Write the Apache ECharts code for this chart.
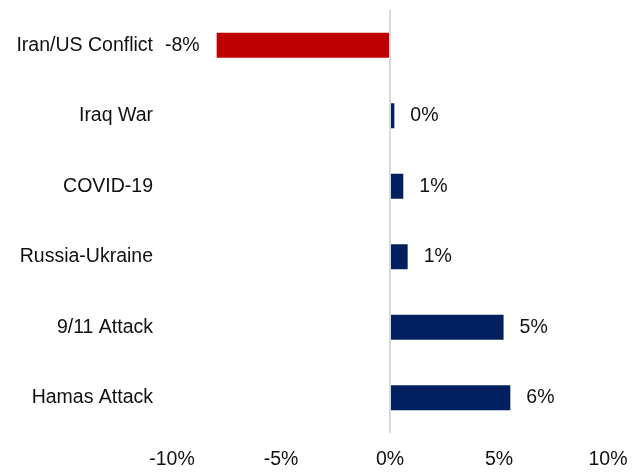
<!DOCTYPE html>
<html><head><meta charset="utf-8">
<script src="https://cdn.jsdelivr.net/npm/echarts@6/dist/echarts.min.js"></script>
<style>html,body{margin:0;padding:0;background:#fff}#c{width:643px;height:472px}</style>
</head><body><div id="c"></div>
<script>
const categories = ["Iran/US Conflict", "Iraq War", "COVID-19", "Russia-Ukraine", "9/11 Attack", "Hamas Attack"];
const values = [-7.95, 0.2, 0.61, 0.81, 5.21, 5.52];
const xTicks = [-10, -5, 0, 5, 10];

const FONT = "Liberation Sans, Arial, sans-serif";
const FS = 19.5;
const chart = echarts.init(document.getElementById('c'), null, {renderer: 'canvas'});
chart.setOption({
  animation: false,
  grid: {left: 172, right: 35, top: 10, bottom: 39, containLabel: false},
  xAxis: {
    type: 'value', min: xTicks[0], max: xTicks[xTicks.length - 1], interval: 5,
    axisLine: {show: false}, axisTick: {show: false}, splitLine: {show: false},
    axisLabel: {formatter: v => v + '%', color: '#111', fontSize: FS, fontFamily: FONT, margin: 17}
  },
  yAxis: {
    type: 'category', data: categories, inverse: true,
    axisLine: {show: false}, axisTick: {show: false},
    axisLabel: {color: '#111', fontSize: FS, fontFamily: FONT, margin: 19}
  },
  series: [{
    type: 'bar', barWidth: 25,
    data: values.map(v => ({
      value: v,
      itemStyle: {color: v < 0 ? '#C00000' : '#002060'},
      label: {position: v < 0 ? 'left' : 'right', distance: v < 0 ? 17 : 16}
    })),
    label: {show: true, color: '#111', fontSize: FS, fontFamily: FONT,
      formatter: p => Math.round(p.value) + '%'},
    markLine: {
      silent: true, symbol: 'none', label: {show: false},
      lineStyle: {color: '#d9d9d9', width: 2, type: 'solid'},
      data: [{xAxis: 0}]
    },
    z: 3
  }]
});
</script></body></html>
